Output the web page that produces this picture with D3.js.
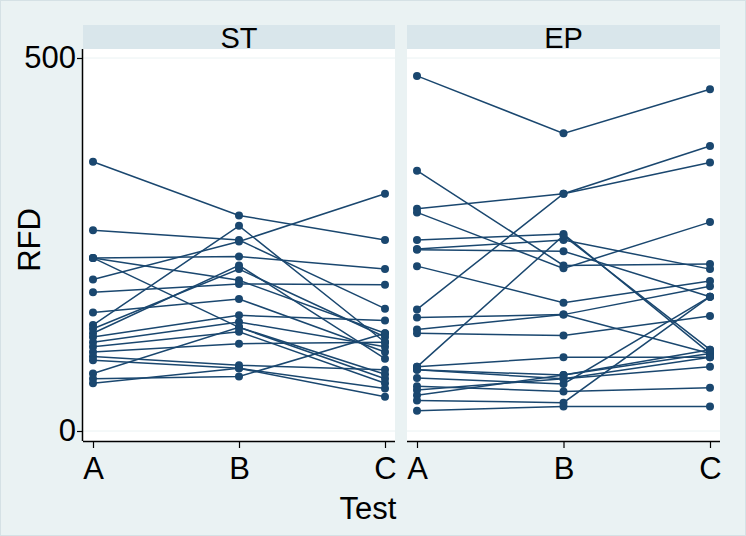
<!DOCTYPE html>
<html>
<head>
<meta charset="utf-8">
<script src="https://cdn.jsdelivr.net/npm/d3@7"></script>
<style>
  body { margin: 0; background: #eaf2f3; }
  text { font-family: "Liberation Sans Narrow", "Arial Narrow", "Liberation Sans", Arial, sans-serif; fill: #000; }
</style>
</head>
<body>
<svg id="chart" width="746" height="536"></svg>
<script>
const tests = ['A', 'B', 'C'];
const panels = ['ST', 'EP'];
const yTicks = [0, 500];

// RFD per subject, values at tests A, B, C
const stA = [361, 269, 232, 232, 232, 203, 186, 159, 142, 137, 131, 126, 119, 113, 106, 100, 95, 77, 70, 64];
const stB = [289, 256, 234, 202, 139, 254, 197, 177, 275, 217, 222, 155, 146, 133, 117, 88, 84, 139, 73, 84];
const stC = [256, 164, 217, 131, 70, 318, 196, 106, 119, 126, 97, 148, 113, 64, 119, 82, 57, 76, 131, 46];

const epA = [476, 349, 298, 163, 293, 256, 244, 243, 221, 152, 136, 131, 86, 86, 82, 82, 71, 60, 48, 41, 27, 55];
const epB = [399, 222, 318, 318, 218, 264, 256, 241, 172, 156, 156, 128, 262, 99, 75, 70, 63, 53, 75, 38, 33, 70];
const epC = [458, 224, 360, 382, 280, 104, 217, 180, 201, 194, 104, 154, 109, 99, 104, 86, 180, 58, 109, 180, 33, 99];

const panelData = {
  ST: stA.map((a, i) => [a, stB[i], stC[i]]),
  EP: epA.map((a, i) => [a, epB[i], epC[i]])
};

const navy = '#1a476f';
const fontSize = '31px';
const svg = d3.select('#chart');

svg.append('rect')
  .attr('x', 0.5).attr('y', 0.5)
  .attr('width', 745).attr('height', 535)
  .attr('fill', '#eaf2f3')
  .attr('stroke', '#d5e1e5');

const plotTop = 49, plotBottom = 441, headTop = 25;
const panelX = { ST: [83, 395], EP: [407, 720] };

const y = d3.scaleLinear().domain([0, 500]).range([431, 58]);

panels.forEach((p, pi) => {
  const [x0, x1] = panelX[p];
  const x = d3.scalePoint().domain(tests).range([x0 + 10, x1 - 10]);
  const g = svg.append('g');

  // header strip
  g.append('rect')
    .attr('x', x0).attr('y', headTop)
    .attr('width', x1 - x0).attr('height', plotTop - headTop)
    .attr('fill', '#d9e6eb');
  g.append('text')
    .attr('x', (x0 + x1) / 2).attr('y', 48)
    .attr('text-anchor', 'middle')
    .style('font-size', '29px')
    .text(p);

  // plot region
  g.append('rect')
    .attr('x', x0).attr('y', plotTop)
    .attr('width', x1 - x0).attr('height', plotBottom - plotTop)
    .attr('fill', '#fff');

  // gridlines
  g.selectAll('line.grid')
    .data(yTicks)
    .enter().append('line')
    .attr('class', 'grid')
    .attr('x1', x0).attr('x2', x1)
    .attr('y1', d => y(d)).attr('y2', d => y(d))
    .attr('stroke', '#eaf2f3')
    .attr('stroke-width', 1);

  // subject lines
  const line = d3.line()
    .x((d, i) => x(tests[i]))
    .y(d => y(d));

  g.selectAll('path.subj')
    .data(panelData[p])
    .enter().append('path')
    .attr('class', 'subj')
    .attr('d', line)
    .attr('fill', 'none')
    .attr('stroke', navy)
    .attr('stroke-width', 1.5);

  panelData[p].forEach(row => {
    g.selectAll(null)
      .data(row)
      .enter().append('circle')
      .attr('cx', (d, i) => x(tests[i]))
      .attr('cy', d => y(d))
      .attr('r', 4)
      .attr('fill', navy);
  });

  // x axis
  const xAxis = d3.axisBottom(x).tickSize(7).tickPadding(9);
  const ax = g.append('g')
    .attr('transform', `translate(0,${plotBottom})`)
    .call(xAxis);
  ax.select('.domain').attr('d', `M${x0},0.5H${x1}`).attr('stroke', '#000').attr('stroke-width', 1.5);
  ax.selectAll('.tick line').attr('stroke', '#000').attr('stroke-width', 1.2);
  ax.selectAll('.tick text')
    .style('font-size', fontSize)
    .style('font-family', null);

  // y axis on first panel only
  if (pi === 0) {
    const yAxis = d3.axisLeft(y).tickValues(yTicks).tickSize(6).tickPadding(1);
    const ay = g.append('g')
      .attr('transform', `translate(${x0},0)`)
      .call(yAxis);
    ay.select('.domain').attr('d', `M-0.5,${plotTop}V${plotBottom}`).attr('stroke', '#000').attr('stroke-width', 1.5);
    ay.selectAll('.tick line').attr('stroke', '#000').attr('stroke-width', 1.2);
    ay.selectAll('.tick text')
      .style('font-size', fontSize)
      .style('font-family', null);
  }
});

// axis titles
svg.append('text')
  .attr('transform', 'translate(40,240) rotate(-90)')
  .attr('text-anchor', 'middle')
  .style('font-size', fontSize)
  .text('RFD');

svg.append('text')
  .attr('x', 368).attr('y', 519)
  .attr('text-anchor', 'middle')
  .style('font-size', fontSize)
  .text('Test');
</script>
</body>
</html>
